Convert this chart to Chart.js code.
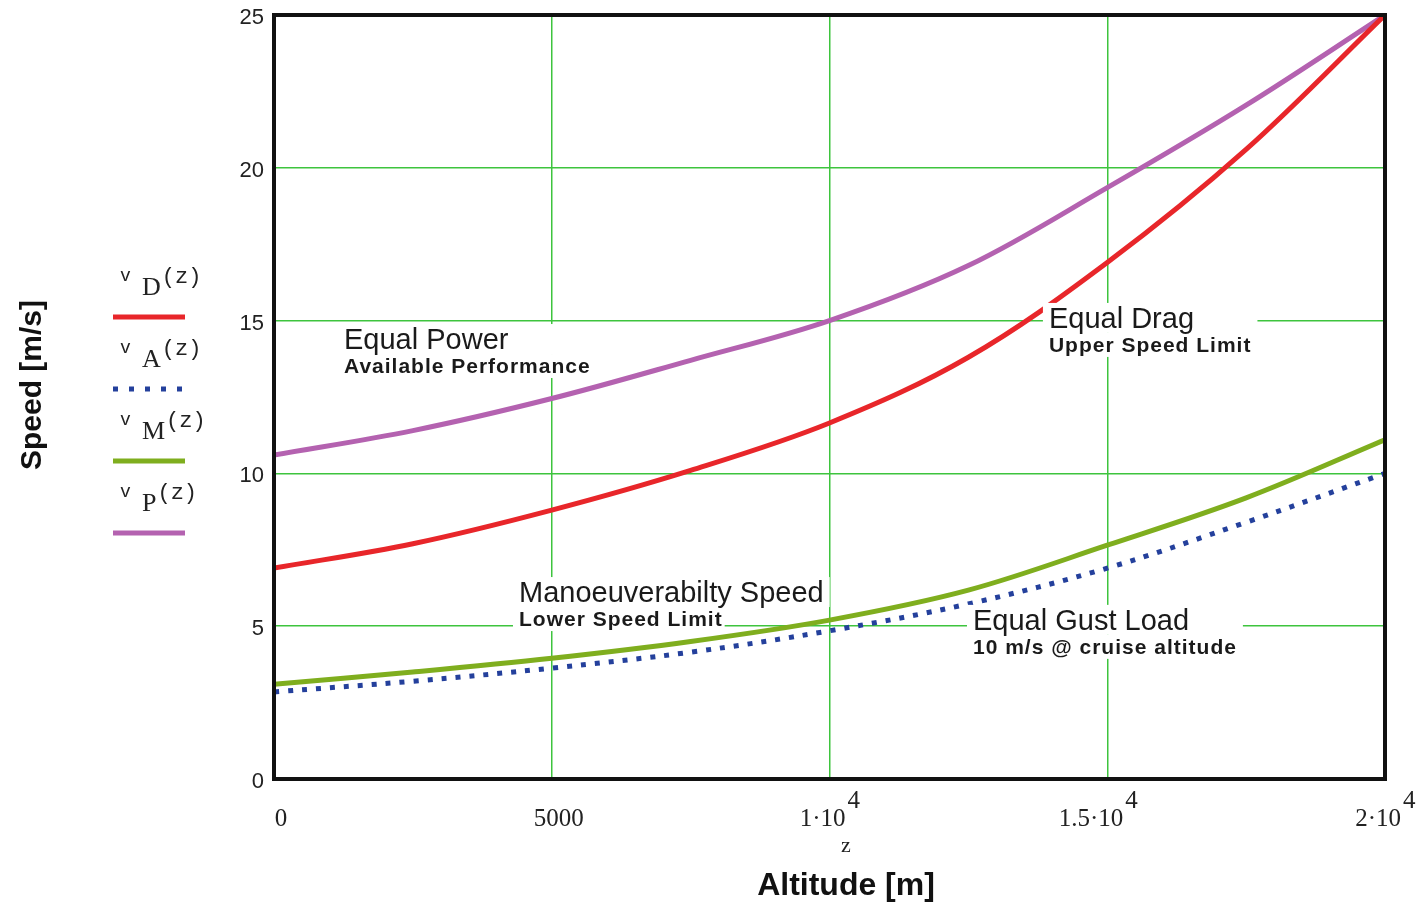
<!DOCTYPE html>
<html>
<head>
<meta charset="utf-8">
<script src="https://cdn.jsdelivr.net/npm/chart.js@4.4.1/dist/chart.umd.min.js"></script>
<style>
  html, body { margin: 0; padding: 0; background: #fff; }
  #wrap { width: 1419px; height: 905px; position: relative; }
</style>
</head>
<body>
<div id="wrap"><canvas id="chart"></canvas></div>
<script>
// Data
const altitudes = [0, 2500, 5000, 7500, 10000, 12500, 15000, 17500, 20000];
const vDrag = [6.9, 7.7, 8.8, 10.1, 11.65, 13.8, 16.9, 20.6, 25.0];
const vGust = [2.85, 3.2, 3.63, 4.15, 4.85, 5.73, 6.9, 8.4, 10.0];
const vManoeuvre = [3.1, 3.5, 3.95, 4.5, 5.2, 6.18, 7.65, 9.2, 11.1];
const vPower = [10.6, 11.4, 12.45, 13.7, 15.0, 16.8, 19.35, 22.05, 25.0];

const xTicks = [0, 5000, 10000, 15000, 20000];
const xTickText = [['0', ''], ['5000', ''], ['1\u00b710', '4'], ['1.5\u00b710', '4'], ['2\u00b710', '4']];
const yTicks = [0, 5, 10, 15, 20, 25];

const legendItems = [
  { sub: 'D', color: '#e8262a', dash: [] },
  { sub: 'A', color: '#24409c', dash: [5, 11] },
  { sub: 'M', color: '#7fae1e', dash: [] },
  { sub: 'P', color: '#b462b0', dash: [] }
];

const notes = [
  { x: 1260, y: 14.07, title: 'Equal Power', sub: 'Available Performance' },
  { x: 13950, y: 14.76, title: 'Equal Drag', sub: 'Upper Speed Limit' },
  { x: 4410, y: 5.79, title: 'Manoeuverabilty Speed', sub: 'Lower Speed Limit' },
  { x: 12583, y: 4.88, title: 'Equal Gust Load', sub: '10 m/s @ cruise altitude' }
];

function pts(values) {
  return altitudes.map((a, i) => ({ x: a, y: values[i] }));
}

function line(label, values, color, dash) {
  return {
    label,
    data: pts(values),
    borderColor: color,
    backgroundColor: color,
    borderWidth: 5,
    borderDash: dash,
    borderCapStyle: 'butt',
    pointRadius: 0,
    tension: 0.35,
    fill: false
  };
}

const titleFont = '29px "Liberation Sans", Arial, sans-serif';
const subFont = 'bold 21px "Liberation Sans", Arial, sans-serif';
const tickFont = '25px "Liberation Serif", "Times New Roman", serif';

// custom drawing: frame, x tick labels, legend, annotations
const decor = {
  id: 'decor',
  afterDatasetsDraw(chart) {
    const ctx = chart.ctx;
    const xs = chart.scales.x, ys = chart.scales.y;
    const area = chart.chartArea;

    // annotations with white boxes behind each text row
    notes.forEach(n => {
      const px = xs.getPixelForValue(n.x);
      const py = ys.getPixelForValue(n.y);
      ctx.save();
      ctx.font = titleFont;
      const w1 = ctx.measureText(n.title).width;
      ctx.font = subFont;
      ctx.letterSpacing = '1px';
      const w2 = ctx.measureText(n.sub).width;
      ctx.fillStyle = '#fff';
      ctx.fillRect(px - 6, py - 25, Math.max(w1, w2) + 12, 30);
      ctx.fillRect(px - 6, py + 5, w2 + 8, 24);
      ctx.fillStyle = '#1a1a1a';
      ctx.textBaseline = 'alphabetic';
      ctx.letterSpacing = '0px';
      ctx.font = titleFont;
      ctx.fillText(n.title, px, py);
      ctx.letterSpacing = '1px';
      ctx.font = subFont;
      ctx.fillText(n.sub, px, py + 24);
      ctx.restore();
    });

    // frame
    ctx.save();
    ctx.strokeStyle = '#111';
    ctx.lineWidth = 4;
    ctx.strokeRect(area.left, area.top, area.right - area.left, area.bottom - area.top);
    ctx.restore();
  },
  afterDraw(chart) {
    const ctx = chart.ctx;
    const xs = chart.scales.x;
    const area = chart.chartArea;

    // x tick labels in Mathcad style
    ctx.save();
    ctx.fillStyle = '#222';
    ctx.textBaseline = 'alphabetic';
    ctx.textAlign = 'left';
    xTicks.forEach((v, i) => {
      const px = xs.getPixelForValue(v);
      const [main, sup] = xTickText[i];
      ctx.font = tickFont;
      const w = ctx.measureText(main).width;
      let left = px + 7 - w / 2;
      if (sup) left = px - w + 16;
      ctx.fillText(main, left, area.bottom + 47);
      if (sup) ctx.fillText(sup, left + w + 2, area.bottom + 29);
    });

    // "z" variable
    ctx.font = '22px "Liberation Serif", "Times New Roman", serif';
    ctx.textAlign = 'center';
    ctx.fillText('z', 846, 852);

    // axis titles
    ctx.font = 'bold 32px "Liberation Sans", Arial, sans-serif';
    ctx.fillStyle = '#111';
    ctx.fillText('Altitude [m]', 846, 895);

    ctx.save();
    ctx.translate(41, 385);
    ctx.rotate(-Math.PI / 2);
    ctx.font = 'bold 30px "Liberation Sans", Arial, sans-serif';
    ctx.fillText('Speed [m/s]', 0, 0);
    ctx.restore();

    // legend
    ctx.textAlign = 'left';
    legendItems.forEach((it, i) => {
      const y0 = 283 + i * 72;
      ctx.fillStyle = '#222';
      ctx.font = '18px "Liberation Mono", "Courier New", monospace';
      ctx.fillText('v', 120, y0 - 2);
      ctx.font = '26px "Liberation Serif", "Times New Roman", serif';
      ctx.fillText(it.sub, 142, y0 + 12);
      const sw = ctx.measureText(it.sub).width;
      ctx.font = '22px "Liberation Mono", "Courier New", monospace';
      ctx.fillText('(z)', 143 + sw, y0);
      ctx.strokeStyle = it.color;
      ctx.lineWidth = 5;
      ctx.setLineDash(it.dash);
      ctx.beginPath();
      ctx.moveTo(113, y0 + 34);
      ctx.lineTo(185, y0 + 34);
      ctx.stroke();
      ctx.setLineDash([]);
    });
    ctx.restore();
  }
};

new Chart(document.getElementById('chart'), {
  type: 'line',
  data: {
    datasets: [
      line('vD(z)', vDrag, '#e8262a', []),
      line('vA(z)', vGust, '#24409c', [5, 9]),
      line('vM(z)', vManoeuvre, '#7fae1e', []),
      line('vP(z)', vPower, '#b462b0', [])
    ]
  },
  options: {
    responsive: true,
    maintainAspectRatio: false,
    animation: false,
    layout: { padding: { top: 15, right: 34, left: 0, bottom: 0 } },
    plugins: {
      legend: { display: false },
      tooltip: { enabled: false }
    },
    scales: {
      x: {
        type: 'linear',
        min: 0,
        max: 20000,
        afterBuildTicks: s => { s.ticks = xTicks.map(v => ({ value: v })); },
        afterFit: s => { s.height = 126; },
        ticks: { display: false },
        grid: { color: '#3ec43e', lineWidth: 1.5, drawTicks: false },
        border: { display: false }
      },
      y: {
        min: 0,
        max: 25,
        afterBuildTicks: s => { s.ticks = yTicks.map(v => ({ value: v })); },
        afterFit: s => { s.width = 274; s.paddingTop = 0; s.paddingBottom = 0; },
        ticks: {
          color: '#222',
          padding: 10,
          labelOffset: 3,
          font: { family: '"Liberation Sans", Arial, sans-serif', size: 22, lineHeight: 0.5 }
        },
        grid: { color: '#3ec43e', lineWidth: 1.5, drawTicks: false },
        border: { display: false }
      }
    }
  },
  plugins: [decor]
});
</script>
</body>
</html>
